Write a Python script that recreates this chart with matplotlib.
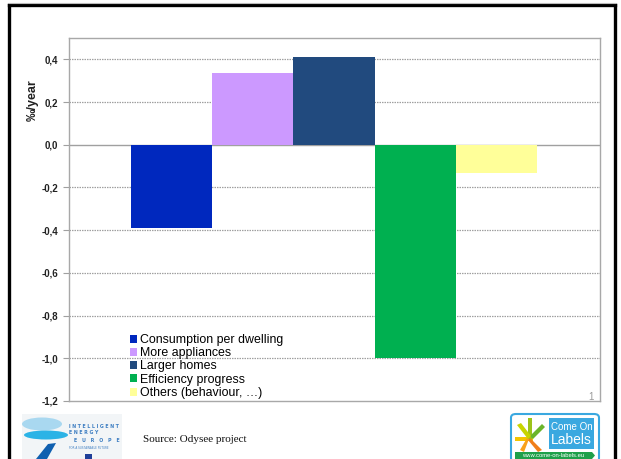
import matplotlib
matplotlib.use("Agg")
import matplotlib.pyplot as plt
from matplotlib.patches import Rectangle, FancyBboxPatch, Ellipse, Polygon
from matplotlib.lines import Line2D
from matplotlib.ticker import FuncFormatter

# ---- data ----
categories = ["Consumption per dwelling", "More appliances", "Larger homes",
              "Efficiency progress", "Others (behaviour, \u2026)"]
values = [-0.39, 0.335, 0.41, -1.0, -0.13]
colors = ["#0028BE", "#CC99FF", "#214A7E", "#00B050", "#FFFF99"]
y_ticks = [-1.2, -1.0, -0.8, -0.6, -0.4, -0.2, 0.0, 0.2, 0.4]
y_label = "\u2030/year"
source_text = "Source: Odysee project"

W, H = 621, 459
fig = plt.figure(figsize=(W / 100, H / 100), dpi=100)
fig.patch.set_facecolor("white")

def fx(px):
    return px / W

def fy(py):
    return 1 - py / H

ax = fig.add_axes([fx(69), fy(401), fx(600) - fx(69), fy(38) - fy(401)])
ax.set_facecolor("white")

x = list(range(len(values)))
ax.bar(x, values, width=1.0, color=colors, zorder=3, linewidth=0)
ax.set_xlim(-0.5 - 62 / 81, 4.5 + 63 / 81)
ax.set_ylim(-1.2, 0.5)

# gridlines
for t in y_ticks:
    if abs(t) < 1e-9 or abs(t + 1.2) < 1e-9:
        continue
    ax.axhline(t, color="#A0A0A0", lw=0.9, ls=(0, (1.2, 0.8)), zorder=1)
ax.axhline(0, color="#A0A0A0", lw=1.0, zorder=2)

for s in ax.spines.values():
    s.set_color("#A8A8A8")
    s.set_linewidth(1.0)

ax.set_xticks([])
ax.set_yticks(y_ticks)
ax.yaxis.set_major_formatter(FuncFormatter(lambda v, p: f"{v:.1f}".replace(".", ",")))
ax.tick_params(axis="y", length=4, width=0.8, color="#A0A0A0", pad=4,
               labelsize=7, labelcolor="#222222")
for lab in ax.get_yticklabels():
    lab.set_fontweight("bold")
    lab.set_fontfamily("Liberation Sans")

fig.text(fx(33), fy(100), y_label, rotation=90, ha="center", va="center",
         fontsize=9, fontweight="bold", family=["Liberation Sans", "DejaVu Sans"],
         color="#222222")

# legend
handles = [Rectangle((0, 0), 1, 1, facecolor=c, edgecolor="none") for c in colors]
leg = ax.legend(handles, categories, loc="upper left",
                bbox_to_anchor=(fx(130), fy(334)), bbox_transform=fig.transFigure,
                frameon=False, handlelength=0.6, handleheight=0.6, handletextpad=0.2,
                labelspacing=0.1, borderpad=0, borderaxespad=0,
                prop={"family": "Liberation Sans", "size": 8.9})
leg.set_zorder(5)

# page number
fig.text(fx(591), fy(397), "1", fontsize=7, color="#999999", ha="center", va="center",
         family="Liberation Sans")

# outer frame
frame_kw = dict(color="black", lw=2.4, transform=fig.transFigure, figure=fig)
fig.lines.append(Line2D([fx(9), fx(9)], [fy(5), 0], **frame_kw))
fig.lines.append(Line2D([fx(615), fx(615)], [fy(5), 0], **frame_kw))
fig.lines.append(Line2D([fx(9), fx(615)], [fy(5), fy(5)], **frame_kw))
fig.lines.append(Line2D([fx(9), fx(615)], [fy(2.5), fy(2.5)], color="#BBBBBB", lw=0.8,
                        transform=fig.transFigure, figure=fig))

# source text
fig.text(fx(143), fy(439), source_text, fontsize=8, family="Liberation Serif",
         ha="left", va="center", color="#111111")

# ---- Intelligent Energy Europe logo (simplified) ----
T = fig.transFigure
fig.patches.append(Rectangle((fx(22), fy(459)), fx(122) - fx(22), fy(414) - fy(459),
                             facecolor="#F2F5F7", edgecolor="none", transform=T, figure=fig))
fig.patches.append(Ellipse((fx(42), fy(424)), fx(40), fy(0) - fy(13),
                           facecolor="#A9D8F0", edgecolor="none", transform=T, figure=fig))
fig.patches.append(Ellipse((fx(46), fy(435)), fx(44), fy(0) - fy(9),
                           facecolor="#2BB3E6", edgecolor="none", transform=T, figure=fig))
fig.patches.append(Polygon([(fx(36), fy(459)), (fx(48), fy(444)), (fx(56), fy(443)),
                            (fx(47), fy(459))], closed=True, facecolor="#1060B0",
                           edgecolor="none", transform=T, figure=fig))
iee_kw = dict(fontsize=3.4, color="#3E7EC2", fontweight="bold", family="DejaVu Sans",
              va="center")
fig.text(fx(69), fy(426), "I N T E L L I G E N T", ha="left", **iee_kw)
fig.text(fx(69), fy(433), "E N E R G Y", ha="left", **iee_kw)
fig.text(fx(120), fy(440), "E   U   R   O   P   E", ha="right", **iee_kw)
fig.text(fx(69), fy(448), "FOR A SUSTAINABLE FUTURE", ha="left", fontsize=2.0,
         color="#3E7EC2", family="DejaVu Sans", va="center")
fig.patches.append(Rectangle((fx(85), fy(459)), fx(7), fy(0) - fy(5),
                             facecolor="#1F3F99", edgecolor="none", transform=T, figure=fig))

# ---- Come On Labels logo (simplified) ----
fig.patches.append(FancyBboxPatch((fx(511), fy(462)), fx(88), fy(0) - fy(48),
                                  boxstyle="round,pad=0,rounding_size=0.008",
                                  facecolor="white", edgecolor="#3AA8E0", lw=1.5,
                                  transform=T, figure=fig))
star = [("#F5C400", [(515, 437), (533, 437), (533, 441), (515, 441)]),
        ("#9CC31A", [(528, 418), (532, 418), (532, 440), (528, 440)]),
        ("#6BB52B", [(530, 436), (542, 424), (545, 427), (533, 439)]),
        ("#F07E1A", [(530, 438), (542, 450), (538, 452), (528, 440)]),
        ("#F9A11B", [(529, 439), (524, 452), (520, 450), (527, 438)]),
        ("#C8D400", [(517, 425), (521, 423), (531, 436), (528, 439)])]
for c, pts in star:
    fig.patches.append(Polygon([(fx(a), fy(b)) for a, b in pts], closed=True,
                               facecolor=c, edgecolor="none", transform=T, figure=fig))
fig.patches.append(Rectangle((fx(549), fy(449)), fx(45), fy(0) - fy(31),
                             facecolor="#3AA8E0", edgecolor="none", transform=T, figure=fig))
fig.text(fx(571.5), fy(427), "Come On", ha="center", va="center", fontsize=7,
         color="white", family="Liberation Sans")
fig.text(fx(571.5), fy(440), "Labels", ha="center", va="center", fontsize=10,
         color="white", family="Liberation Sans")
fig.patches.append(Polygon([(fx(515), fy(452)), (fx(592), fy(452)), (fx(595), fy(455.5)),
                            (fx(592), fy(459)), (fx(515), fy(459))], closed=True,
                           facecolor="#1FA04A", edgecolor="none", transform=T, figure=fig))
fig.text(fx(553), fy(455.5), "www.come-on-labels.eu", ha="center", va="center",
         fontsize=4.2, color="white", family="Liberation Sans")

fig.savefig("out.png", dpi=100, facecolor="white")
